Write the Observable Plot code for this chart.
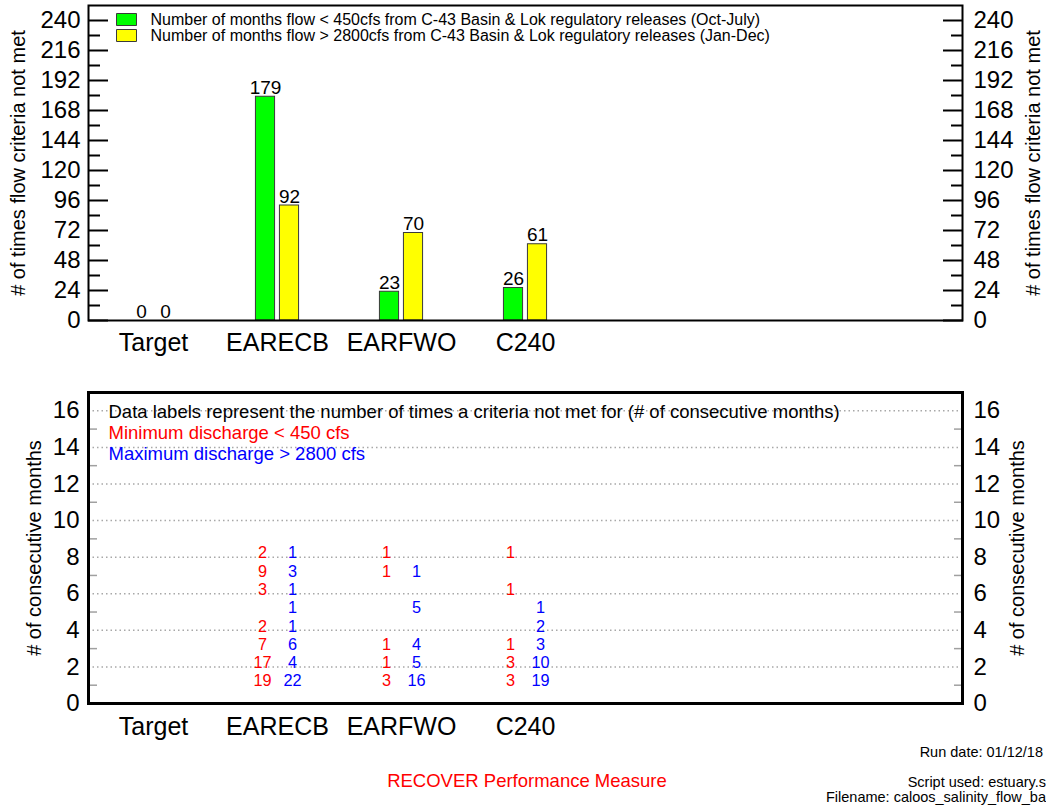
<!DOCTYPE html>
<html>
<head>
<meta charset="utf-8">
<script src="https://cdn.jsdelivr.net/npm/d3@7"></script>
<script src="https://cdn.jsdelivr.net/npm/@observablehq/plot@0.6"></script>
<style>
  html, body { margin: 0; padding: 0; background: #ffffff; }
  #wrap { position: relative; width: 1046px; height: 805px; overflow: hidden; background: #ffffff;
          font-family: "Liberation Sans", Arial, Helvetica, sans-serif; }
  #wrap svg { display: block; }
  .foot { position: absolute; white-space: nowrap; line-height: 16px; color: #000; }
</style>
</head>
<body>
<div id="wrap"></div>
<script>
// ---------------- data ----------------
const categories = ["Target", "EARECB", "EARFWO", "C240"];
const emptySlots = ["slot5", "slot6", "slot7"];          // unused category slots on the x axis
const lowFlowMonths  = [0, 179, 23, 26];                   // < 450 cfs (Oct-July)
const highFlowMonths = [0, 92, 70, 61];                    // > 2800 cfs (Jan-Dec)
const seriesLabels = [
  "Number of months flow < 450cfs from C-43 Basin & Lok regulatory releases (Oct-July)",
  "Number of months flow > 2800cfs from C-43 Basin & Lok regulatory releases (Jan-Dec)"
];
const topTicks      = [0, 24, 48, 72, 96, 120, 144, 168, 192, 216, 240];
const topMinorTicks = [12, 36, 60, 84, 108, 132, 156, 180, 204, 228];
const topTitle = "# of times flow criteria not met";

const consecutiveMonths = [1, 2, 3, 4, 5, 6, 7, 8];
const minEARECB = [19, 17, 7, 2, null, 3, 9, 2];
const maxEARECB = [22, 4, 6, 1, 1, 1, 3, 1];
const minEARFWO = [3, 1, 1, null, null, null, 1, 1];
const maxEARFWO = [16, 5, 4, null, 5, null, 1, null];
const minC240   = [3, 3, 1, null, null, 1, null, 1];
const maxC240   = [19, 10, 3, 2, 1, null, null, null];
const bottomTicks      = [0, 2, 4, 6, 8, 10, 12, 14, 16];
const bottomGridTicks  = [2, 4, 6, 8, 10, 12, 14, 16];
const bottomMinorTicks = [1, 3, 5, 7, 9, 11, 13, 15];
const bottomTitle = "# of consecutive months";
const noteLines = [
  "Data labels represent the number of times a criteria not met for (# of consecutive months)",
  "Minimum discharge < 450 cfs",
  "Maximum discharge > 2800 cfs"
];
const runDate = "Run date: 01/12/18";
const footerCenter = "RECOVER Performance Measure";
const scriptUsed = "Script used: estuary.s";
const fileName = "Filename: caloos_salinity_flow_ba";

// ---------------- derived tables ----------------
const topData = categories.flatMap((cat, i) => [
  {cat, series: "low", value: lowFlowMonths[i]},
  {cat, series: "high", value: highFlowMonths[i]}
]);
const lowData = topData.filter(d => d.series === "low");
const highData = topData.filter(d => d.series === "high");

const bottomData = [
  ["EARECB", "min", minEARECB], ["EARECB", "max", maxEARECB],
  ["EARFWO", "min", minEARFWO], ["EARFWO", "max", maxEARFWO],
  ["C240", "min", minC240], ["C240", "max", maxC240]
].flatMap(([cat, kind, counts]) => consecutiveMonths.map((m, j) => ({cat, kind, months: m, count: counts[j]})))
 .filter(d => d.count != null);

// ---------------- layout ----------------
const W = 1046;
const ML = 88, MR = 84;
const xDomain = categories.concat(emptySlots);
const bandW = (W - ML - MR) / xDomain.length;
const barW = 20;
const barInset = (bandW - barW) / 2;
const font = '"Liberation Sans", Arial, Helvetica, sans-serif';
const GREEN = "#00ff00", YELLOW = "#ffff00", RED = "#ff0000", BLUE = "#0000ff";
const swatch = {draw(ctx) { ctx.rect(-10, -6, 20, 12); }};

// tick-only and text-only axis helpers (built on Plot.axisY)
const tickAxis = (anchor, ticks, size, opts = {}) =>
  Plot.axisY({anchor, ticks, tickSize: size, dx: anchor === "left" ? size : -size, fill: "none", label: null, ...opts});
const textAxis = (anchor, ticks, pad, opts = {}) =>
  Plot.axisY({anchor, ticks, tickSize: 0, tickPadding: pad, stroke: "none", label: null, fontSize: 24, fill: "#000", ...opts});

// ---------------- top chart ----------------
const topPlot = Plot.plot({
  width: W, height: 362,
  marginLeft: ML, marginRight: MR, marginTop: 5, marginBottom: 42,
  style: {fontFamily: font, background: "#ffffff", color: "#000", overflow: "visible"},
  x: {type: "band", domain: xDomain, padding: 0},
  y: {domain: [0, 252]},
  marks: [
    Plot.barY(lowData.filter(d => d.value > 0), {x: "cat", y: "value", fill: GREEN, stroke: "#3a3a3a", strokeWidth: 1,
      insetLeft: barInset, insetRight: barInset, dx: -12}),
    Plot.barY(highData.filter(d => d.value > 0), {x: "cat", y: "value", fill: YELLOW, stroke: "#3a3a3a", strokeWidth: 1,
      insetLeft: barInset, insetRight: barInset, dx: 12}),
    Plot.text(lowData, {x: "cat", y: "value", text: d => String(d.value), dx: -12, dy: -9, fontSize: 19, fill: "#000"}),
    Plot.text(highData, {x: "cat", y: "value", text: d => String(d.value), dx: 12, dy: -9, fontSize: 19, fill: "#000"}),
    tickAxis("left", topTicks, 20, {strokeWidth: 2}),
    tickAxis("left", topMinorTicks, 12, {strokeWidth: 2}),
    tickAxis("right", topTicks, 20, {strokeWidth: 2}),
    tickAxis("right", topMinorTicks, 12, {strokeWidth: 2}),
    textAxis("left", topTicks, 8),
    textAxis("right", topTicks, 11),
    Plot.axisX({ticks: categories, tickSize: 0, tickPadding: 13, fontSize: 25, label: null, fill: "#000"}),
    Plot.frame({stroke: "#000", strokeWidth: 2}),
    Plot.text([topTitle], {frameAnchor: "left", rotate: -90, dx: -70, textAnchor: "middle", lineAnchor: "middle", fontSize: 20, fill: "#000"}),
    Plot.text([topTitle], {frameAnchor: "right", rotate: -90, dx: 71, textAnchor: "middle", lineAnchor: "middle", fontSize: 20, fill: "#000"}),
    Plot.dot([seriesLabels[0]], {x: null, y: null, frameAnchor: "top-left", dx: 38, dy: 14, symbol: swatch, fill: GREEN, stroke: "#3a3a3a", strokeWidth: 1}),
    Plot.dot([seriesLabels[1]], {x: null, y: null, frameAnchor: "top-left", dx: 38, dy: 30, symbol: swatch, fill: YELLOW, stroke: "#3a3a3a", strokeWidth: 1}),
    Plot.text([seriesLabels[0]], {frameAnchor: "top-left", dx: 62, dy: 14, textAnchor: "start", lineAnchor: "middle", fontSize: 16, fill: "#000"}),
    Plot.text([seriesLabels[1]], {frameAnchor: "top-left", dx: 62, dy: 30, textAnchor: "start", lineAnchor: "middle", fontSize: 16, fill: "#000"})
  ]
});

// ---------------- bottom chart ----------------
const bottomPlot = Plot.plot({
  width: W, height: 381,
  marginLeft: ML, marginRight: MR, marginTop: 30, marginBottom: 40,
  style: {fontFamily: font, background: "#ffffff", color: "#000", overflow: "visible"},
  x: {type: "band", domain: xDomain, padding: 0},
  y: {domain: [0, 17]},
  marks: [
    Plot.gridY(bottomGridTicks, {stroke: "#a8a8a8", strokeOpacity: 1, strokeWidth: 1.5, strokeDasharray: "1.5,3"}),
    tickAxis("left", bottomMinorTicks, 9, {stroke: "#a0a0a0", strokeWidth: 1.5}),
    tickAxis("right", bottomMinorTicks, 9, {stroke: "#a0a0a0", strokeWidth: 1.5}),
    textAxis("left", bottomTicks, 9),
    textAxis("right", bottomTicks, 11),
    Plot.axisX({ticks: categories, tickSize: 0, tickPadding: 14, fontSize: 25, label: null, fill: "#000"}),
    Plot.frame({stroke: "#000", strokeWidth: 3}),
    Plot.text(bottomData.filter(d => d.kind === "min"), {x: "cat", y: "months", text: d => String(d.count), dx: -15, dy: -4, fontSize: 16.3, fill: RED}),
    Plot.text(bottomData.filter(d => d.kind === "max"), {x: "cat", y: "months", text: d => String(d.count), dx: 15, dy: -4, fontSize: 16.3, fill: BLUE}),
    Plot.text([noteLines[0]], {frameAnchor: "top-left", dx: 20, dy: 20, textAnchor: "start", lineAnchor: "middle", fontSize: 18.5, fill: "#000"}),
    Plot.text([noteLines[1]], {frameAnchor: "top-left", dx: 20, dy: 41, textAnchor: "start", lineAnchor: "middle", fontSize: 18.5, fill: RED}),
    Plot.text([noteLines[2]], {frameAnchor: "top-left", dx: 20, dy: 62, textAnchor: "start", lineAnchor: "middle", fontSize: 18.5, fill: BLUE}),
    Plot.text([bottomTitle], {frameAnchor: "left", rotate: -90, dx: -54, textAnchor: "middle", lineAnchor: "middle", fontSize: 20, fill: "#000"}),
    Plot.text([bottomTitle], {frameAnchor: "right", rotate: -90, dx: 55, textAnchor: "middle", lineAnchor: "middle", fontSize: 20, fill: "#000"})
  ]
});

const wrap = document.getElementById("wrap");
wrap.appendChild(topPlot);
wrap.appendChild(bottomPlot);

function foot(text, css) {
  const d = document.createElement("div");
  d.className = "foot";
  d.textContent = text;
  Object.assign(d.style, css);
  wrap.appendChild(d);
}
foot(runDate, {right: "3px", top: "744px", fontSize: "14.5px"});
foot(footerCenter, {left: "527px", top: "772px", fontSize: "18.5px", lineHeight: "18px", color: RED, transform: "translateX(-50%)"});
foot(scriptUsed, {right: "0px", top: "774px", fontSize: "14.5px"});
foot(fileName, {right: "0px", top: "789px", fontSize: "14.5px"});
</script>
</body>
</html>
